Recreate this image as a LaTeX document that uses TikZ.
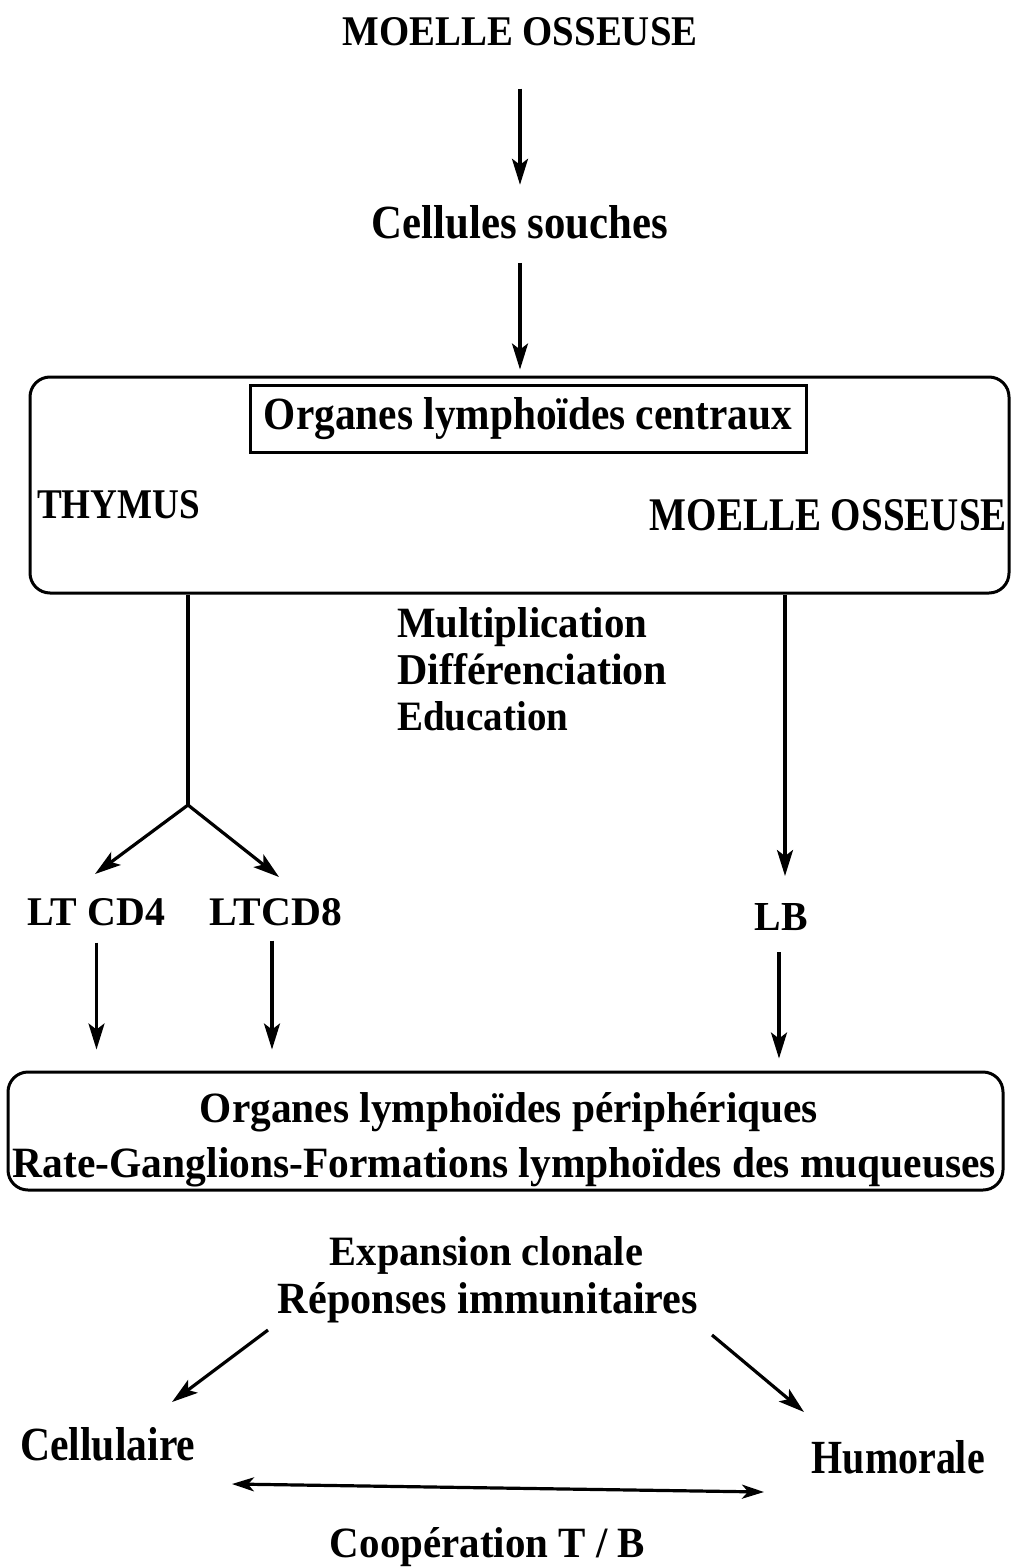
\documentclass[tikz,border=0pt]{standalone}
\usepackage{fontspec}
\setmainfont{Liberation Serif}
\usetikzlibrary{arrows.meta,calc}
\begin{document}
\begin{tikzpicture}[x=1pt,y=-1pt,
  lbl/.style={inner sep=0pt, anchor=base, font=\bfseries},
  cond/.style={inner sep=0pt, anchor=base, font=\bfseries},
  tip/.style={-{Stealth[length=26pt,width=16pt,inset=6pt]}},
  arr/.style={line width=3.2pt, tip},
  dblarr/.style={line width=3.2pt, {Stealth[length=22pt,width=14pt,inset=6pt]}-{Stealth[length=22pt,width=14pt,inset=6pt]}},
  ln/.style={line width=3.2pt},
  box/.style={draw, line width=3pt, rounded corners=20pt, inner sep=0pt}]
\useasboundingbox (0,0) rectangle (1011,1568);
\fill[white] (0,0) rectangle (1011,1568);

% top
\node[lbl] (moelle) at (520,46) {\resizebox{355pt}{28pt}{MOELLE OSSEUSE}};
\node[lbl] (cellules) at (520,238) {\resizebox{296pt}{33pt}{Cellules souches}};

% central organs box
\node[box, minimum width=979pt, minimum height=216pt] (central) at (519.5,485) {};
\node[draw, line width=3pt, minimum width=556pt, minimum height=67pt, inner sep=0pt, font=\bfseries] (centraux) at (528,418.5) {\resizebox{528pt}{32pt}{Organes lymphoïdes centraux}};
\node[lbl, anchor=base west] (thymus) at (37,518) {\resizebox{163pt}{28pt}{THYMUS}};
\node[lbl, anchor=base east] (moelle2) at (1007,530) {\resizebox{357pt}{31pt}{MOELLE OSSEUSE}};

% process labels
\node[lbl, anchor=base west] (mult) at (397,637) {\resizebox{250pt}{30pt}{Multiplication}};
\node[lbl, anchor=base west] (diff) at (397,684) {\resizebox{270pt}{31pt}{Différenciation}};
\node[lbl, anchor=base west] (educ) at (397,730) {\resizebox{171pt}{29pt}{Education}};

% lymphocytes
\node[lbl] (ltcd4) at (96.5,925) {\resizebox{137pt}{27pt}{LT CD4}};
\node[lbl] (ltcd8) at (276,925) {\resizebox{132pt}{27pt}{LTCD8}};
\node[lbl] (lb) at (781,930) {\resizebox{53pt}{27pt}{LB}};

% peripheral box
\node[box, minimum width=995pt, minimum height=118pt] (periph) at (505.5,1131) {};
\node[cond] (periph1) at (509,1122) {\resizebox{618pt}{30pt}{Organes lymphoïdes périphériques}};
\node[cond] (periph2) at (504.5,1177) {\resizebox{983pt}{30pt}{Rate-Ganglions-Formations lymphoïdes des muqueuses}};

% responses
\node[lbl] (expansion) at (486.5,1265) {\resizebox{313pt}{29pt}{Expansion clonale}};
\node[lbl] (reponses) at (488,1313) {\resizebox{420pt}{31pt}{Réponses immunitaires}};
\node[cond, anchor=base west] (cellulaire) at (20,1460) {\resizebox{175pt}{33pt}{Cellulaire}};
\node[cond, anchor=base east] (humorale) at (985,1473) {\resizebox{173pt}{33pt}{Humorale}};
\node[cond] (coop) at (487.5,1557) {\resizebox{315pt}{30pt}{Coopération T / B}};

% connectors
\draw[arr, shorten <=42pt, shorten >=20pt] (moelle.south) -- (cellules.north);
\draw[arr, shorten <=24pt, shorten >=6pt] (cellules.south) -- (central.north -| cellules.south);

\coordinate (apex) at (188,805);
\coordinate (tipL) at (95,874);
\coordinate (tipR) at (279,877);
\draw[ln] (central.south -| apex) -- (apex);
\draw[arr] (apex) -- (tipL);
\draw[arr] (apex) -- (tipR);

\coordinate (lbtip) at (785,876);
\draw[arr] (central.south -| lbtip) -- (lbtip);

\draw[arr, shorten <=17pt, shorten >=21pt] (ltcd4.south) -- (ltcd4.south |- periph.north);
\draw[arr, shorten <=15pt, shorten >=21pt] ([xshift=-4pt]ltcd8.south) -- ([xshift=-4pt]ltcd8.south |- periph.north);
\draw[arr, shorten <=22pt, shorten >=12pt] ([xshift=-2pt]lb.south) -- ([xshift=-2pt]lb.south |- periph.north);

\coordinate (resL0) at (268,1330);
\coordinate (resL1) at (172,1402);
\coordinate (resR0) at (712,1335);
\coordinate (resR1) at (804,1412);
\draw[arr] (resL0) -- (resL1);
\draw[arr] (resR0) -- (resR1);

\coordinate (coopL) at (232,1484);
\coordinate (coopR) at (764,1492);
\draw[dblarr] (coopL) -- (coopR);
\end{tikzpicture}
\end{document}
